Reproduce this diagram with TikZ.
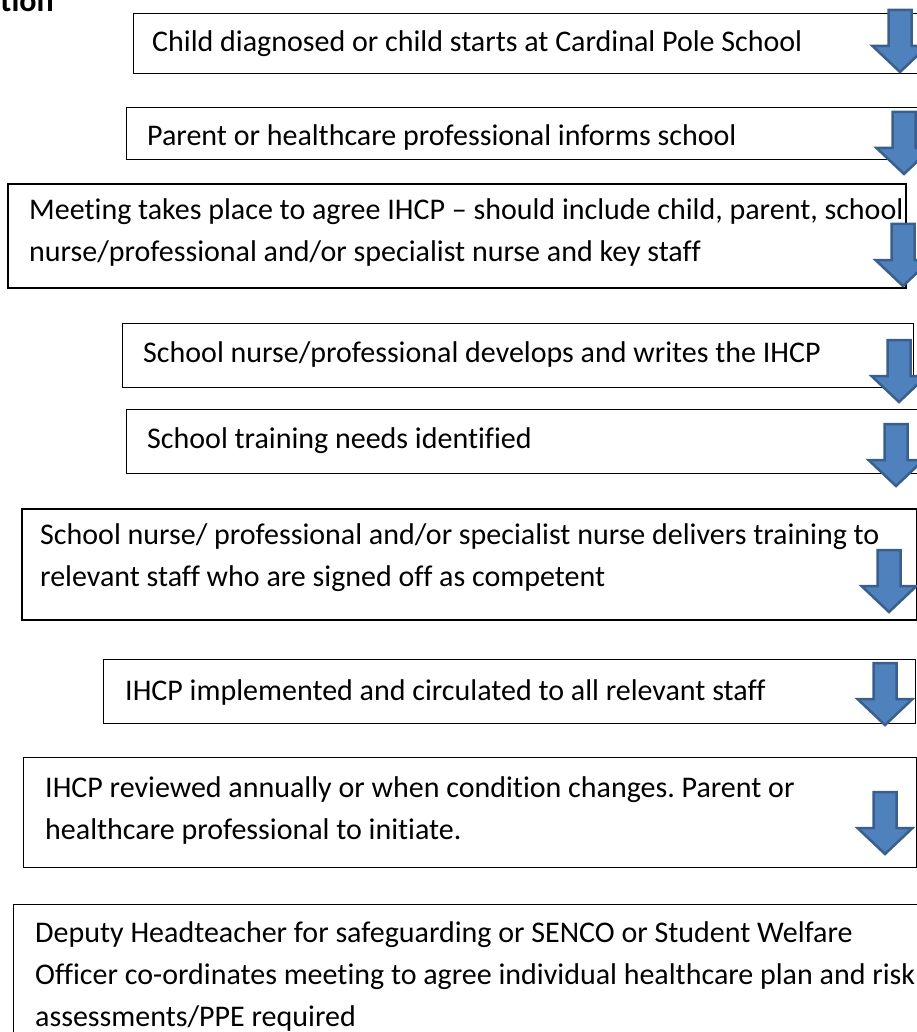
\documentclass[tikz,border=0pt]{standalone}
\usepackage{fontspec}
\setmainfont{Carlito}[Ligatures=NoCommon]
\frenchspacing
\definecolor{arrowfill}{HTML}{4F81BD}
\definecolor{arrowline}{HTML}{3A5F8C}
\begin{document}
\begin{tikzpicture}[x=1pt,y=-1pt,
  stepbox/.style={draw=black, line width=1.3pt, rectangle, inner sep=0pt, anchor=north west},
  heavybox/.style={stepbox, line width=1.8pt},
  steptext/.style={anchor=base west, inner sep=0pt, font=\fontsize{30}{42}\selectfont},
  flowarrow/.style={fill=arrowfill, draw=arrowline, line width=2.5pt, line join=miter},
  downarrow/.pic={\draw[flowarrow] (-11.5,0) -- (11.5,0) -- (11.5,36) -- (27.5,36)
      -- (0,62) -- (-27.5,36) -- (-11.5,36) -- cycle;}]
\useasboundingbox (0,0) rectangle (917,1032);
\clip (0,0) rectangle (917,1032);

% tail of the heading above the flow chart
\node[anchor=base east, inner sep=0pt, font=\fontsize{32}{36}\selectfont\bfseries] (head) at (54,12) {ation};

% step boxes
\node[stepbox, minimum width=802, minimum height=60] (s1) at (133,13) {};
\node[stepbox, minimum width=809, minimum height=52] (s2) at (126,107) {};
\node[heavybox, minimum width=898, minimum height=104] (s3) at (7,183) {};
\node[stepbox, minimum width=791, minimum height=64] (s4) at (122,323) {};
\node[stepbox, minimum width=809, minimum height=64] (s5) at (126,409) {};
\node[heavybox, minimum width=895, minimum height=111] (s6) at (21,508) {};
\node[stepbox, minimum width=812, minimum height=64] (s7) at (103,659) {};
\node[stepbox, minimum width=893, minimum height=110] (s8) at (23,757) {};
\node[stepbox, minimum width=922, minimum height=200] (s9) at (13,904) {};

% step texts
\node[steptext] (t1) at (152,52) {Child diagnosed or child starts at Cardinal Pole School};
\node[steptext] (t2) at (147,146) {Parent or healthcare professional informs school};
\node[steptext] (t3) at (29,220) {\parbox[t]{1000pt}{\raggedright Meeting takes place to agree IHCP – should include child, parent, school\\nurse/professional and/or specialist nurse and key staff}};
\node[steptext] (t4) at (143,362) {School nurse/professional develops and writes the IHCP};
\node[steptext] (t5) at (147,448) {School training needs identified};
\node[steptext] (t6) at (40,544) {\parbox[t]{1000pt}{\raggedright School nurse/ professional and/or specialist nurse delivers training to\\relevant staff who are signed off as competent}};
\node[steptext] (t7) at (125,700) {IHCP implemented and circulated to all relevant staff};
\node[steptext] (t8) at (45,797) {\parbox[t]{1000pt}{\raggedright IHCP reviewed annually or when condition changes. Parent or\\healthcare professional to initiate.}};
\node[steptext] (t9) at (35,942) {\parbox[t]{1000pt}{\raggedright Deputy Headteacher for safeguarding or SENCO or Student Welfare\\Officer co-ordinates meeting to agree individual healthcare plan and risk\\assessments/PPE required}};

% block arrows along the right side
\pic (a1) at (900,10) {downarrow};
\pic (a2) at (904,112) {downarrow};
\pic (a3) at (903,224) {downarrow};
\pic (a4) at (899,340) {downarrow};
\pic (a5) at (896,424) {downarrow};
\pic (a6) at (889,550) {downarrow};
\pic (a7) at (885,663) {downarrow};
\pic (a8) at (885,792) {downarrow};
\end{tikzpicture}
\end{document}
